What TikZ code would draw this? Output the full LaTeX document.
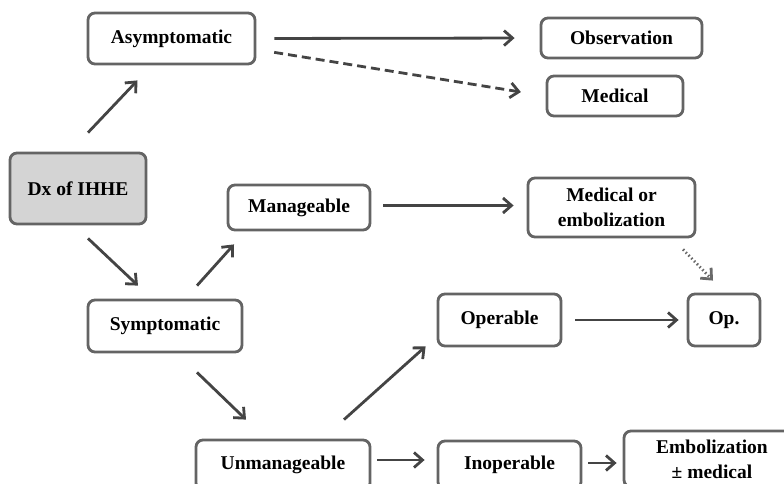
\documentclass[tikz,border=0pt]{standalone}
\usepackage{fontspec}
\setmainfont{Liberation Serif}
\usetikzlibrary{arrows.meta}

\begin{document}
\begin{tikzpicture}[x=1pt,y=-1pt,
	box/.style={draw=boxgray, line width=2.8pt, rounded corners=7pt, fill=white,
		align=center, inner sep=0pt, font=\bfseries\fontsize{19.5}{25}\selectfont},
	arr/.style={draw=linegray, line width=2.8pt,
		-{Straight Barb[length=8.5pt,width=15pt,line width=2.8pt]}}]
				% 颜色列表
				\definecolor{boxgray}{RGB}{100,100,100}
				\definecolor{linegray}{RGB}{68,68,68}
				\definecolor{dotgray}{RGB}{105,105,105}
				\definecolor{dxgray}{RGB}{212,212,212}
				\useasboundingbox (0,0) rectangle (784,484);
				
				% 方框
				\node[box, fill=dxgray, minimum width=136, minimum height=71] (dx) at (78,188.5) {Dx of IHHE};
				\node[box, minimum width=167, minimum height=51] (asym) at (171.5,38.5) {Asymptomatic};
				\node[box, minimum width=161, minimum height=40] (obs) at (621.5,38) {Observation};
				\node[box, minimum width=136, minimum height=40] (med) at (615,96) {Medical};
				\node[box, minimum width=142, minimum height=45] (mana) at (299,207.5) {Manageable};
				\node[box, minimum width=167, minimum height=59] (medemb) at (611.5,207.5) {Medical or\\embolization};
				\node[box, minimum width=154, minimum height=52] (symp) at (165,326) {Symptomatic};
				\node[box, minimum width=123, minimum height=52] (oper) at (499.5,320) {Operable};
				\node[box, minimum width=72, minimum height=52] (op) at (724,320) {Op.};
				\node[box, minimum width=174, minimum height=50] (unman) at (283,465) {Unmanageable};
				\node[box, minimum width=143, minimum height=48] (inop) at (509.5,465) {Inoperable};
				\node[box, minimum width=176, minimum height=56] (emb) at (712,459) {Embolization\\± medical};
				
				% 箭头
				\draw[arr] ([xshift=10pt,yshift=19pt]dx.north) -- ([xshift=-34pt,yshift=-15pt]asym.south);
				\draw[arr] ([xshift=10pt,yshift=-13pt]dx.south) -- ([xshift=-27pt,yshift=13pt]symp.north);
				\draw[arr, shorten <=18pt, shorten >=25pt] (asym.east) -- (obs.west);
				\draw[arr, dashed, dash pattern=on 9pt off 5pt, shorten <=18pt, shorten >=25pt] ([yshift=-11pt]asym.east) -- (med.west);
				\draw[arr] ([xshift=32pt,yshift=13pt]symp.north) -- ([xshift=-65pt,yshift=-13pt]mana.south);
				\draw[arr, shorten <=12pt, shorten >=13pt] ([yshift=2pt]mana.east) -- ([yshift=2pt]medemb.west);
				\draw[arr, draw=dotgray, dash pattern=on 1.5pt off 2.5pt] ([xshift=71.5pt,yshift=-11pt]medemb.south) -- ([xshift=-11pt,yshift=12pt]op.north);
				\draw[arr] ([xshift=32pt,yshift=-19pt]symp.south) -- ([xshift=-37pt,yshift=19pt]unman.north);
				\draw[arr] ([xshift=61pt,yshift=19pt]unman.north) -- ([xshift=-11pt,yshift=1pt]oper.south west);
				\draw[arr, shorten <=13pt, shorten >=8pt] (oper.east) -- (op.west);
				\draw[arr, shorten <=6pt, shorten >=12pt] ([yshift=5pt]unman.east) -- ([yshift=5pt]inop.west);
				\draw[arr, shorten <=6pt, shorten >=6pt] ([yshift=2pt]inop.east) -- ([yshift=-4pt]emb.west);
				
\end{tikzpicture}
\end{document}
